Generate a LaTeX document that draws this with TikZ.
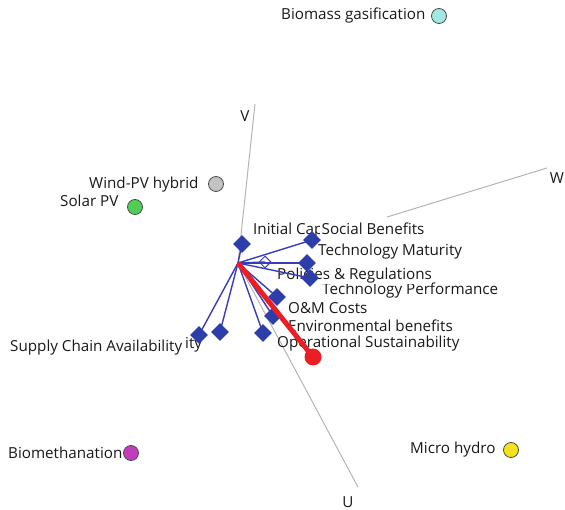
\documentclass[tikz,border=0pt]{standalone}
\usepackage{fontspec}
\setmainfont{Open Sans}
\usetikzlibrary{shapes.geometric}
\definecolor{txt}{RGB}{25,25,25}
\definecolor{axisgray}{RGB}{180,180,180}
\definecolor{lineblue}{RGB}{55,60,185}
\definecolor{diablue}{RGB}{45,62,170}
\definecolor{redv}{RGB}{235,30,35}
\definecolor{cyanp}{RGB}{160,232,225}
\definecolor{grayp}{RGB}{195,195,195}
\definecolor{greenp}{RGB}{80,205,85}
\definecolor{purplep}{RGB}{195,60,190}
\definecolor{yellowp}{RGB}{245,225,30}
\tikzset{
  lbl/.style={anchor=west, inner sep=0pt, text=txt, font=\fontsize{15.2}{17}\selectfont},
  lblw/.style={lbl, fill=white, inner ysep=0.5pt},
  axlbl/.style={inner sep=0pt, text=txt, font=\fontsize{15.2}{17}\selectfont},
  axisline/.style={draw=axisgray, line width=1pt},
  vec/.style={draw=lineblue, line width=1.4pt},
  dia/.style={diamond, fill=diablue, inner sep=0pt, minimum size=18pt},
  hdia/.style={diamond, draw=lineblue, line width=1pt, inner sep=0pt, minimum size=12pt},
  pt/.style={circle, draw=black!70, line width=0.8pt, inner sep=0pt, minimum size=15pt},
}
\begin{document}
\begin{tikzpicture}[x=1pt, y=-1pt]
\useasboundingbox (0,0) rectangle (565,510);
% origin and axis ends
\coordinate (O) at (238,263);
\coordinate (Vend) at (255,104);
\coordinate (Uend) at (358,487);
\coordinate (Wstart) at (387,217);
\coordinate (Wend) at (547,168);
\draw[axisline] (O) -- (Vend);
\draw[axisline] (O) -- (Uend);
\draw[axisline] (Wstart) -- (Wend);
\node[axlbl] (V) at (245,116) {V};
\node[axlbl] (W) at (557,178) {W};
\node[axlbl] (U) at (348,502) {U};
% score points
\node[lbl] (tbg) at (281,16) {Biomass gasification};
\node[pt, fill=cyanp] (pbg) at (439,16) {};
\node[lbl] (twp) at (89,185) {Wind-PV hybrid};
\node[pt, fill=grayp] (pwp) at (216,184) {};
\node[lbl] (tspv) at (60,201) {Solar PV};
\node[pt, fill=greenp] (pspv) at (135,207) {};
\node[lbl] (tbm) at (8,453) {Biomethanation};
\node[pt, fill=purplep] (pbm) at (131,453) {};
\node[lbl] (tmh) at (410,450) {Micro hydro};
\node[pt, fill=yellowp] (pmh) at (511,450) {};
% variable labels
\node[lbl] (lic) at (253,231) {Initial Cap};
\node[lblw, inner xsep=1.5pt] (lsb) at (320,229) {Social Benefits};
\node[lbl] (ltm) at (318,252) {Technology Maturity};
\node[lbl] (ltp) at (322,291) {Technology Performance};
\node[lblw] (lpr) at (277,276) {Policies \& Regulations};
\node[lbl] (lom) at (288,308) {O\&M Costs};
\node[lbl] (lenv) at (288,326) {Environmental benefits};
\node[lbl] (lops) at (277,344) {Operational Sustainability};
\node[lbl] (lity) at (185,345) {ity};
\node[lblw] (lsca) at (10,348) {Supply Chain Availability};
% loading vectors
\node[hdia] (dpr2) at (265,262) {};
\foreach \n/\x/\y in {dic/242/244, dsb/312/240, dtm/307/263, dpr/310/278, dom/277/297, denv/273/316, dops/263/333, dsc2/220/332, dsc/199/335}{
  \coordinate (\n) at (\x,\y);
  \draw[vec] (O) -- (\n);
}
\draw[vec] (O) -- (dpr2.center);
\foreach \n in {dic, dsb, dtm, dpr, dom, denv, dops, dsc2, dsc}{
  \node[dia] at (\n) {};
}
% red vector
\node[circle, fill=redv, inner sep=0pt, minimum size=17pt] (red) at (313,357) {};
\draw[redv, line width=5pt] (O) -- (red.center);
\end{tikzpicture}
\end{document}
